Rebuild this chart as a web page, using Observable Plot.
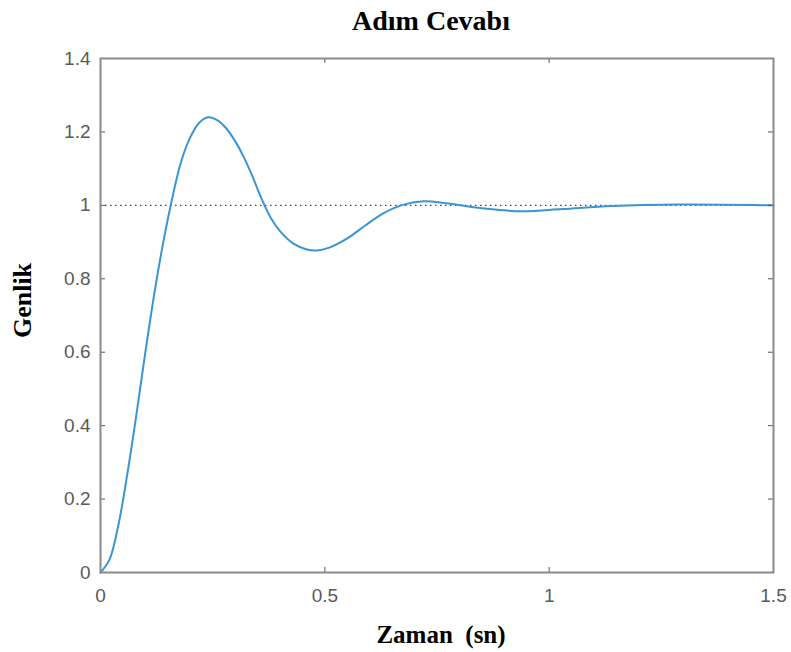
<!DOCTYPE html>
<html>
<head>
<meta charset="utf-8">
<script src="https://cdn.jsdelivr.net/npm/d3@7"></script>
<script src="https://cdn.jsdelivr.net/npm/@observablehq/plot@0.6"></script>
<style>
  html, body { margin: 0; padding: 0; background: #fff; }
</style>
</head>
<body>
<div id="chart"></div>
<script>
const titleText = "Adım Cevabı";
const xLabel = "Zaman\u00a0\u00a0(sn)";
const yLabel = "Genlik";
const xTicks = [0, 0.5, 1, 1.5];
const yTicks = [0, 0.2, 0.4, 0.6, 0.8, 1, 1.2, 1.4];
const time = [0, 0.02, 0.04, 0.06, 0.08, 0.10, 0.12, 0.14, 0.16, 0.18, 0.20, 0.22, 0.24, 0.26, 0.28, 0.30, 0.32, 0.34, 0.36, 0.38, 0.40, 0.43, 0.46, 0.48, 0.51, 0.55, 0.59, 0.63, 0.67, 0.72, 0.77, 0.85, 0.94, 1.03, 1.14, 1.29, 1.5];
const amplitude = [0, 0.035, 0.13, 0.27, 0.43, 0.60, 0.76, 0.90, 1.02, 1.12, 1.185, 1.225, 1.24, 1.232, 1.21, 1.175, 1.13, 1.075, 1.015, 0.965, 0.93, 0.896, 0.88, 0.877, 0.885, 0.91, 0.945, 0.978, 1.0, 1.011, 1.006, 0.992, 0.984, 0.990, 0.998, 1.002, 1.0];
const finalValue = [1];

const W = 791, H = 652;
const mL = 100, mR = 18, mT = 58, mB = 80;
const pw = W - mL - mR, ph = H - mT - mB;
const data = time.map((t, i) => ({t, a: amplitude[i]}));
const serif = "'Liberation Serif', 'Times New Roman', serif";
const sans = "'Liberation Sans', Arial, sans-serif";
const tickColor = "#555";

const chart = Plot.plot({
  width: W, height: H,
  marginLeft: mL, marginRight: mR, marginTop: mT, marginBottom: mB,
  style: {fontFamily: sans, background: "#fff"},
  x: {domain: [0, 1.5]},
  y: {domain: [0, 1.4]},
  marks: [
    Plot.ruleY(finalValue, {stroke: "#444", strokeWidth: 1.4, strokeDasharray: "1.5,3.5"}),
    Plot.line(data, {x: "t", y: "a", stroke: "#3a95d2", strokeWidth: 2, curve: "catmull-rom"}),
    Plot.tickY(yTicks, {y: d => d, stroke: tickColor, insetRight: pw - 5}),
    Plot.tickY(yTicks, {y: d => d, stroke: tickColor, insetLeft: pw - 5}),
    Plot.tickX(xTicks, {x: d => d, stroke: tickColor, insetTop: ph - 5}),
    Plot.tickX(xTicks, {x: d => d, stroke: tickColor, insetBottom: ph - 5}),
    Plot.frame({stroke: "#8a8a8a", strokeWidth: 2}),
    Plot.axisY({ticks: yTicks, tickSize: 0, tickPadding: 10, fontSize: 19, fill: "#5a5a5a", tickFormat: d => String(d), label: null}),
    Plot.axisX({ticks: xTicks, tickSize: 0, tickPadding: 16, fontSize: 19, fill: "#5a5a5a", tickFormat: d => String(d), label: null}),
    Plot.text([titleText], {text: d => d, frameAnchor: "top", lineAnchor: "middle", dy: -37, dx: -6, fontSize: 28, fontWeight: "bold", fontFamily: serif, fill: "#000"}),
    Plot.text([xLabel], {text: d => d, frameAnchor: "bottom", lineAnchor: "middle", dy: 62, dx: 4, fontSize: 25, fontWeight: "bold", fontFamily: serif, fill: "#000"}),
    Plot.text([yLabel], {text: d => d, frameAnchor: "left", textAnchor: "middle", lineAnchor: "middle", dx: -78, dy: -15, rotate: -90, fontSize: 26, fontWeight: "bold", fontFamily: serif, fill: "#000"})
  ]
});
document.getElementById("chart").appendChild(chart);
</script>
</body>
</html>
